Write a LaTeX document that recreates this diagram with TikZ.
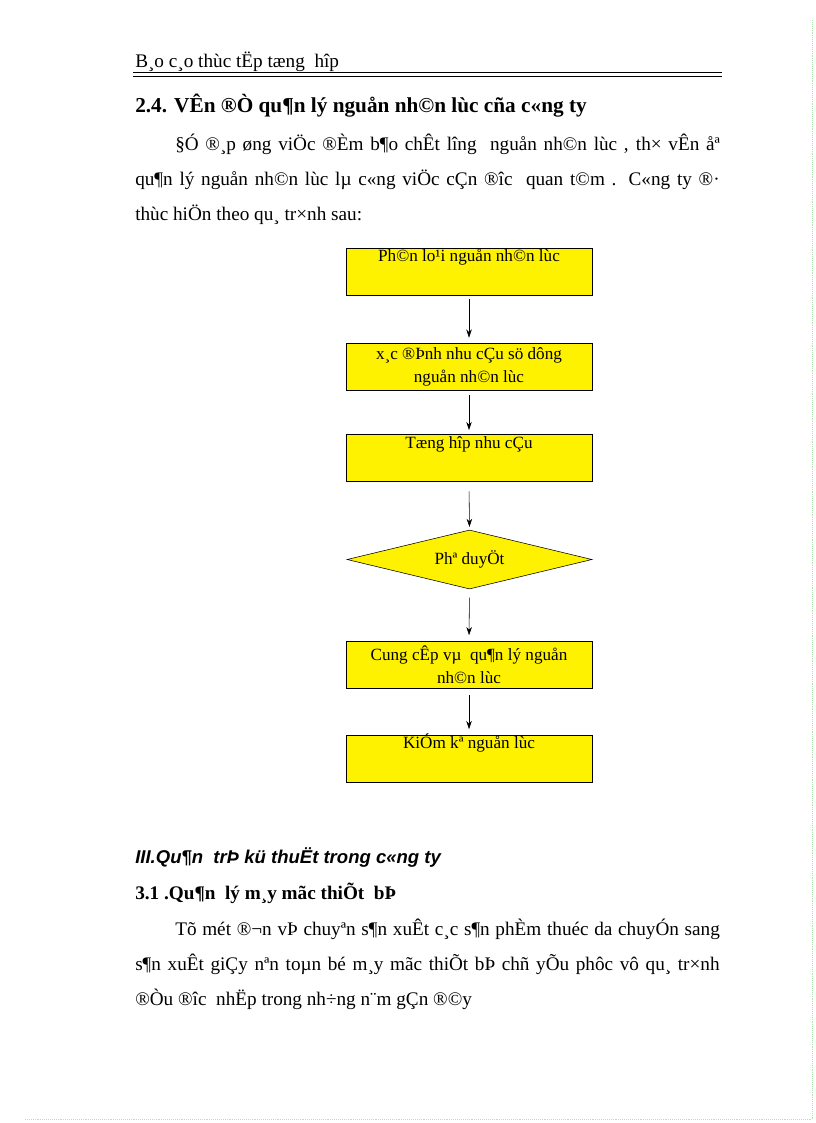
\documentclass[tikz,border=0pt]{standalone}
\usepackage{fontspec}
\setmainfont{Liberation Serif}
\newfontfamily\arialf{Liberation Sans}
\usetikzlibrary{shapes.geometric,arrows.meta}
\newcommand{\upt}[1]{\smash{\raisebox{7pt}{#1}}}
\begin{document}
\begin{tikzpicture}[x=0.729pt,y=-0.729pt,
  txt/.style={anchor=base west,inner sep=0pt,font=\fontsize{14}{16}\selectfont},
  yb/.style={draw,fill=yellow,minimum width=246*0.729pt,minimum height=47*0.729pt,align=center,font=\fontsize{12.5}{17}\selectfont,inner sep=2pt},
  arr/.style={-{Stealth[length=6pt,width=4pt]},thin}]
\useasboundingbox (0,0) rectangle (816,1123);
\node[txt] (hdr) at (135,68) {B¸o c¸o thùc tËp tæng \ hîp};
\draw[line width=1.4pt] (133,72.5) -- (722,72.5);
\draw[line width=0.5pt] (133,76) -- (722,76);
\node[txt,font=\fontsize{15.5}{17}\bfseries] (h24) at (135,113) {2.4. VÊn ®Ò qu¶n lý nguån nh©n lùc cña c«ng ty};
\node[txt] (p1) at (175,151) {\makebox[397pt][s]{§Ó ®¸p øng viÖc ®Èm b¶o chÊt l­îng \ nguån nh©n lùc , th× vÊn åª}};
\node[txt] (p2) at (135,186) {\makebox[426pt][s]{qu¶n lý nguån nh©n lùc lµ c«ng viÖc cÇn ®îc \ quan t©m . C«ng ty ®·}};
\node[txt] (p3) at (135,221) {thùc hiÖn theo qu¸ tr×nh sau:};
\node[yb] (b1) at (469,271.5) {\upt{Ph©n lo¹i nguån nh©n lùc}};
\node[yb] (b2) at (469,367) {x¸c ®Þnh nhu cÇu sö dông\\nguån nh©n lùc};
\node[yb] (b3) at (469,458) {\upt{Tæng hîp nhu cÇu}};
\node[diamond,draw,fill=yellow,aspect=4.15,minimum width=245*0.729pt,minimum height=59*0.729pt,inner sep=0pt,font=\fontsize{12.5}{15}\selectfont] (d) at (469.5,559.5) {Phª duyÖt};
\node[yb] (b5) at (469,664.5) {Cung cÊp vµ \ qu¶n lý nguån\\nh©n lùc};
\node[yb] (b6) at (469,758.5) {\upt{KiÓm kª nguån lùc}};
\draw[arr,shorten <=3pt,shorten >=4pt] (b1.south) -- (b2.north);
\draw[arr,shorten <=3pt,shorten >=3pt] (b2.south) -- (b3.north);
\draw[arr,shorten <=7pt,shorten >=2pt] (b3.south) -- (d.north);
\draw[arr,shorten <=6pt,shorten >=4pt] (d.south) -- (b5.north);
\draw[arr,shorten <=5pt,shorten >=4pt] (b5.south) -- (b6.north);
\node[txt,font=\fontsize{13.5}{15}\arialf\bfseries\itshape] (s3) at (135,863) {III.Qu¶n \ trÞ kü thuËt trong c«ng ty};
\node[txt,font=\fontsize{14}{16}\bfseries] (s31) at (135,899) {3.1 .Qu¶n \ lý m¸y mãc thiÕt \ bÞ};
\node[txt] (q1) at (175,935) {\makebox[397pt][s]{Tõ mét ®¬n vÞ chuyªn s¶n xuÊt c¸c s¶n phÈm thuéc da chuyÓn sang}};
\node[txt] (q2) at (135,970) {\makebox[426pt][s]{s¶n xuÊt giÇy nªn toµn bé m¸y mãc thiÕt bÞ chñ yÕu phôc vô qu¸ tr×nh}};
\node[txt] (q3) at (135,1005) {®Òu ®îc \ nhËp trong nh÷ng n¨m gÇn ®©y};
\draw[densely dotted,green!50!gray!40] (25,1119) -- (812,1119);
\draw[densely dotted,green!50!gray!40] (812,20) -- (812,1119);
\end{tikzpicture}
\end{document}
